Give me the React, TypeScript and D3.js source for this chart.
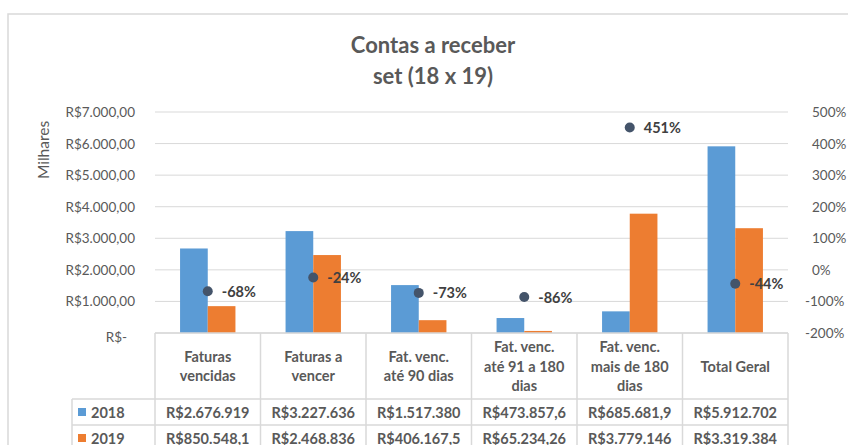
import React from "react";
import * as d3 from "d3";

const categories: string[][] = [
  ["Faturas", "vencidas"],
  ["Faturas a", "vencer"],
  ["Fat. venc.", "até 90 dias"],
  ["Fat. venc.", "até 91 a 180", "dias"],
  ["Fat. venc.", "mais de 180", "dias"],
  ["Total Geral"],
];
const seriesNames = ["2018", "2019"];
const values2018 = [2676.919, 3227.636, 1517.38, 473.8576, 685.6819, 5912.702];
const values2019 = [850.5481, 2468.836, 406.1675, 65.23426, 3779.146, 3319.384];
const variation = [-0.68, -0.24, -0.73, -0.86, 4.51, -0.44];
const table2018 = ["R$2.676.919", "R$3.227.636", "R$1.517.380", "R$473.857,6", "R$685.681,9", "R$5.912.702"];
const table2019 = ["R$850.548,1", "R$2.468.836", "R$406.167,5", "R$65.234,26", "R$3.779.146", "R$3.319.384"];
const leftTicks = [0, 1000, 2000, 3000, 4000, 5000, 6000, 7000];
const rightTicks = [-2, -1, 0, 1, 2, 3, 4, 5];

const W = 848;
const H = 445;
const plotL = 155;
const plotR = 788;
const plotT = 112;
const plotB = 333;
const headerB = 399;
const row1B = 425;
const row2B = 451;
const legendL = 72;

const colors = ["#5B9BD5", "#ED7D31"];
const dotColor = "#44546A";
const grid = "#D9D9D9";
const textCol = "#595959";
const font = "Lato, 'Open Sans', sans-serif";

const brLocale = d3.formatLocale({ decimal: ",", thousands: ".", grouping: [3], currency: ["R$", ""] });
const fmtMoney = brLocale.format(",.2f");
const fmtLeft = (v: number) => (v === 0 ? "R$-" : "R$" + fmtMoney(v));
const fmtPct = (v: number) => `${Math.round(v * 100)}%`;

export default function App() {
  const idx = categories.map((_, i) => String(i));
  const x = d3.scaleBand().domain(idx).range([plotL, plotR]).padding(0);
  const inner = d3
    .scaleBand()
    .domain(seriesNames)
    .range([0, x.bandwidth()])
    .paddingInner(0)
    .paddingOuter(0.905);
  const y = d3.scaleLinear().domain([0, 7000]).range([plotB, plotT]);
  const y2 = d3.scaleLinear().domain([-2, 5]).range([plotB, plotT]);
  const seriesVals = [values2018, values2019];
  const tableRows = [table2018, table2019];

  return (
    <div style={{ position: "absolute", left: 0, top: 0 }}>
      <svg width={W} height={H} style={{ display: "block", background: "#fff", fontFamily: font }}>
        <rect x={8} y={14} width={W} height={H} fill="#fff" stroke={grid} strokeWidth={1.5} />
        {/* Title */}
        <text x={433} y={53} textAnchor="middle" fontSize={22} fontWeight={700} fill={textCol}>
          Contas a receber
        </text>
        <text x={433} y={84} textAnchor="middle" fontSize={22} fontWeight={700} fill={textCol}>
          set (18 x 19)
        </text>
        {/* Axis title */}
        <text
          transform={`translate(49,150) rotate(-90)`}
          textAnchor="middle"
          fontSize={15.5}
          fill={textCol}
        >
          Milhares
        </text>
        {/* Gridlines */}
        {leftTicks.map((t) => (
          <line key={"g" + t} x1={plotL} x2={plotR} y1={y(t)} y2={y(t)} stroke={grid} strokeWidth={1} />
        ))}
        {/* Left tick labels */}
        {leftTicks.map((t) => (
          <text
            key={"l" + t}
            x={t === 0 ? 127 : 135}
            y={y(t) + (t === 0 ? 4 : 0)}
            textAnchor="end"
            dominantBaseline="central"
            fontSize={13.5}
            fill={textCol}
          >
            {fmtLeft(t)}
          </text>
        ))}
        {/* Right tick labels */}
        {rightTicks.map((t) => (
          <text
            key={"r" + t}
            x={t < 0 ? 805 : 812}
            y={y2(t)}
            textAnchor="start"
            dominantBaseline="central"
            fontSize={13.5}
            fill={textCol}
          >
            {fmtPct(t)}
          </text>
        ))}
        {/* Bars */}
        {categories.map((_, i) =>
          seriesNames.map((s, si) => {
            const v = seriesVals[si][i];
            const bx = (x(String(i)) as number) + (inner(s) as number);
            return (
              <rect
                key={`b${i}-${s}`}
                x={bx}
                y={y(v)}
                width={inner.bandwidth()}
                height={plotB - y(v)}
                fill={colors[si]}
              />
            );
          })
        )}
        {/* Variation markers */}
        {variation.map((v, i) => {
          const cx = (x(String(i)) as number) + x.bandwidth() / 2;
          const cy = y2(v);
          return (
            <g key={"d" + i}>
              <circle cx={cx} cy={cy} r={5} fill={dotColor} />
              <text
                x={cx + 14}
                y={cy}
                dominantBaseline="central"
                fontSize={14.5}
                fontWeight={700}
                fill="#404040"
              >
                {fmtPct(v)}
              </text>
            </g>
          );
        })}
        {/* Data table lines */}
        <line x1={plotL} x2={plotR} y1={plotB} y2={plotB} stroke={grid} strokeWidth={1.5} />
        {[headerB, row1B, row2B].map((yy) => (
          <line key={"h" + yy} x1={legendL} x2={plotR} y1={yy} y2={yy} stroke={grid} strokeWidth={1.5} />
        ))}
        <line x1={legendL} x2={legendL} y1={headerB} y2={row2B} stroke={grid} strokeWidth={1.5} />
        {categories.map((_, i) => (
          <line
            key={"v" + i}
            x1={x(String(i)) as number}
            x2={x(String(i)) as number}
            y1={plotB}
            y2={row2B}
            stroke={grid}
            strokeWidth={1.5}
          />
        ))}
        <line x1={plotR} x2={plotR} y1={plotB} y2={row2B} stroke={grid} strokeWidth={1.5} />
        {/* Header texts */}
        {categories.map((lines, i) => {
          const cx = (x(String(i)) as number) + x.bandwidth() / 2;
          const mid = (plotB + headerB) / 2;
          const lh = 19.5;
          return lines.map((ln, li) => (
            <text
              key={`c${i}-${li}`}
              x={cx}
              y={mid + (li - (lines.length - 1) / 2) * lh}
              textAnchor="middle"
              dominantBaseline="central"
              fontSize={14.5}
              fontWeight={700}
              fill={textCol}
            >
              {ln}
            </text>
          ));
        })}
        {/* Rows */}
        {tableRows.map((row, ri) => {
          const top = ri === 0 ? headerB : row1B;
          const mid = top + 13;
          return (
            <g key={"row" + ri}>
              <rect x={78} y={mid - 4} width={8} height={8} fill={colors[ri]} />
              <text x={91} y={mid} dominantBaseline="central" fontSize={14.5} fontWeight={700} fill={textCol}>
                {seriesNames[ri]}
              </text>
              {row.map((val, i) => (
                <text
                  key={`t${ri}-${i}`}
                  x={(x(String(i)) as number) + x.bandwidth() / 2}
                  y={mid}
                  textAnchor="middle"
                  dominantBaseline="central"
                  fontSize={14.5}
                  fontWeight={700}
                  fill={textCol}
                >
                  {val}
                </text>
              ))}
            </g>
          );
        })}
      </svg>
    </div>
  );
}
